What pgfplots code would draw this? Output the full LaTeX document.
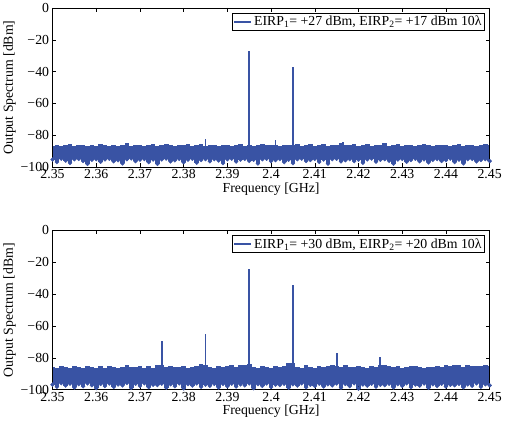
\documentclass[border=0pt]{standalone}
\usepackage{fontspec}
\setmainfont{Liberation Serif}
\usepackage{pgfplots}
\pgfplotsset{compat=1.18}
\usepackage{pgfplotstable}
\definecolor{specblue}{RGB}{57,83,164}

% noise floor envelopes: x, upper/lower (top panel), upper/lower (bottom panel)
\pgfplotstableread{
x u1 l1 u2 l2
2.350 -86.4 -95.2 -85.6 -96.8
2.351 -85.9 -96.8 -86.2 -98.1
2.352 -86.7 -94.6 -85.1 -95.9
2.353 -86.1 -95.9 -85.8 -97.4
2.354 -85.6 -97.3 -86.4 -96.2
2.355 -86.8 -95.0 -85.3 -98.6
2.356 -86.2 -94.8 -85.9 -96.5
2.357 -85.8 -96.1 -86.6 -97.9
2.358 -86.5 -98.0 -85.2 -96.0
2.359 -86.0 -95.4 -85.7 -97.2
2.360 -86.6 -94.9 -86.1 -99.0
2.361 -85.7 -96.6 -85.4 -96.4
2.362 -86.3 -95.1 -86.3 -97.7
2.363 -86.9 -94.7 -85.0 -96.1
2.364 -85.9 -96.3 -85.8 -98.3
2.365 -86.4 -95.6 -86.5 -96.7
2.366 -86.1 -97.6 -85.5 -97.3
2.367 -84.8 -95.0 -84.6 -95.8
2.368 -86.5 -94.5 -86.0 -98.9
2.369 -86.0 -96.2 -85.6 -96.3
2.370 -85.8 -95.3 -84.9 -97.6
2.371 -86.6 -94.9 -86.2 -96.0
2.372 -86.2 -96.8 -85.3 -98.4
2.373 -85.7 -95.2 -86.1 -96.9
2.374 -86.7 -97.9 -84.3 -97.1
2.375 -86.0 -95.1 -84.8 -96.2
2.376 -85.5 -94.6 -85.9 -98.7
2.377 -86.3 -96.4 -85.4 -96.6
2.378 -86.9 -95.7 -86.0 -97.8
2.379 -85.9 -94.8 -85.7 -96.0
2.380 -86.2 -96.9 -85.1 -99.2
2.381 -85.6 -95.3 -86.3 -96.5
2.382 -86.8 -94.7 -85.5 -97.4
2.383 -86.0 -97.2 -84.9 -96.1
2.384 -85.7 -95.5 -83.6 -98.2
2.385 -86.4 -95.0 -84.5 -96.8
2.386 -86.1 -96.3 -85.8 -97.5
2.387 -85.8 -94.9 -86.2 -96.3
2.388 -86.5 -95.8 -85.2 -98.6
2.389 -86.0 -97.4 -85.9 -96.4
2.390 -85.9 -95.1 -85.0 -97.9
2.391 -86.6 -94.6 -84.2 -96.2
2.392 -86.2 -96.5 -85.6 -98.0
2.393 -85.6 -95.2 -84.7 -96.7
2.394 -86.4 -94.8 -84.4 -97.3
2.395 -85.9 -96.0 -84.1 -96.0
2.396 -86.7 -95.4 -85.7 -99.1
2.397 -86.0 -97.7 -86.1 -96.5
2.398 -85.7 -95.0 -85.3 -97.6
2.399 -86.3 -94.7 -85.9 -96.1
2.400 -86.1 -96.2 -86.4 -98.3
2.401 -85.8 -95.6 -85.2 -96.8
2.402 -86.5 -94.9 -85.8 -97.1
2.403 -86.0 -96.8 -85.0 -96.3
2.404 -86.3 -95.3 -83.5 -98.8
2.405 -85.9 -97.5 -83.3 -96.6
2.406 -85.2 -95.0 -85.7 -97.4
2.407 -86.6 -94.6 -86.1 -96.0
2.408 -86.1 -96.1 -84.8 -98.5
2.409 -85.7 -95.5 -85.6 -96.9
2.410 -86.4 -94.8 -86.2 -97.7
2.411 -86.0 -96.7 -85.4 -96.2
2.412 -85.6 -95.2 -85.9 -98.0
2.413 -86.8 -97.8 -85.1 -96.6
2.414 -86.2 -95.0 -84.6 -97.3
2.415 -85.9 -94.7 -84.9 -96.1
2.416 -84.6 -96.4 -85.7 -98.7
2.417 -86.3 -95.6 -84.2 -96.4
2.418 -86.0 -94.9 -85.5 -97.8
2.419 -85.7 -96.2 -86.0 -96.0
2.420 -86.5 -95.3 -85.3 -99.3
2.421 -86.1 -97.3 -85.8 -96.7
2.422 -85.6 -95.1 -86.3 -97.5
2.423 -86.7 -94.6 -85.0 -96.2
2.424 -86.0 -96.5 -85.6 -98.1
2.425 -85.8 -95.4 -84.7 -96.9
2.426 -85.1 -94.9 -84.4 -97.2
2.427 -86.4 -96.0 -85.2 -96.3
2.428 -86.1 -97.8 -85.9 -98.6
2.429 -85.7 -95.2 -85.4 -96.5
2.430 -86.6 -94.8 -86.1 -97.6
2.431 -86.2 -96.6 -85.7 -96.0
2.432 -85.9 -95.5 -85.1 -98.4
2.433 -86.5 -94.7 -84.9 -96.8
2.434 -86.0 -96.3 -85.8 -97.4
2.435 -85.4 -95.1 -86.2 -96.1
2.436 -86.3 -97.0 -85.5 -98.9
2.437 -86.8 -95.4 -85.9 -96.6
2.438 -85.8 -94.9 -85.2 -97.7
2.439 -86.2 -96.1 -85.7 -96.3
2.440 -85.9 -95.6 -84.6 -98.0
2.441 -86.5 -94.6 -85.0 -96.9
2.442 -86.0 -96.8 -84.5 -97.2
2.443 -85.7 -95.3 -84.8 -96.4
2.444 -86.4 -97.6 -85.6 -98.5
2.445 -86.1 -95.0 -84.7 -96.7
2.446 -85.8 -94.8 -85.3 -97.5
2.447 -86.6 -96.4 -84.9 -96.0
2.448 -86.0 -95.5 -85.4 -98.2
2.449 -85.6 -94.9 -84.8 -96.6
2.450 -86.3 -96.2 -85.2 -97.3
}\noise

\pgfplotsset{spec/.style={
  scale only axis,width=442bp,height=161bp,
  xmin=2.35,xmax=2.45,ymin=-100,ymax=0,
  xtick={2.35,2.36,...,2.451},
  xticklabels={2.35,2.36,2.37,2.38,2.39,2.4,2.41,2.42,2.43,2.44,2.45},
  ytick={-100,-80,-60,-40,-20,0},
  yticklabels={−100,−80,−60,−40,−20,0},
  tick align=inside,major tick length=4bp,
  axis line style={line width=0.6pt},every tick/.style={black,line width=0.5pt},
  xlabel={Frequency [GHz]},ylabel={Output Spectrum [dBm]},
  xlabel style={yshift=3bp},ylabel style={yshift=-2bp},
  xticklabel style={yshift=1bp},
  tick label style={font=\fontsize{14}{15}\selectfont},
  label style={font=\fontsize{14}{15}\selectfont},
  legend style={font=\fontsize{14}{15}\selectfont,at={(rel axis cs:0.989,0.969)},anchor=north east,
    draw=black,line width=0.6pt,inner sep=1pt},
  legend image post style={line width=2pt},
  legend cell align=left,axis on top=true},
  band/.style={specblue,only marks,mark=none,forget plot,
    error bars/.cd,y dir=plus,y explicit,error mark=none,
    error bar style={line width=4.7bp,specblue}}}

\begin{document}
\begin{tikzpicture}
\begin{axis}[spec,name=top]
\addplot[band] table[x=x,y=l1,y error expr=\thisrow{u1}-\thisrow{l1}]{\noise};
\addplot[specblue,line width=1.8pt,unbounded coords=jump,forget plot] coordinates {
  (2.385,-90)(2.385,-82) (2.385,nan)
  (2.395,-90)(2.395,-27) (2.395,nan)
  (2.401,-90)(2.401,-83) (2.401,nan)
  (2.405,-90)(2.405,-37) (2.405,nan)
  (2.4165,-90)(2.4165,-84)};
\addlegendimage{specblue}
\addlegendentry{EIRP\textsubscript{1}= +27 dBm, EIRP\textsubscript{2}= +17 dBm 10λ}
\end{axis}
\begin{axis}[spec,at={(top.south west)},anchor=south west,yshift=-225bp]
\addplot[band] table[x=x,y=l2,y error expr=\thisrow{u2}-\thisrow{l2}]{\noise};
\addplot[specblue,line width=1.8pt,unbounded coords=jump,forget plot] coordinates {
  (2.375,-90)(2.375,-69.5) (2.375,nan)
  (2.385,-90)(2.385,-65) (2.385,nan)
  (2.395,-90)(2.395,-24) (2.395,nan)
  (2.405,-90)(2.405,-34) (2.405,nan)
  (2.415,-90)(2.415,-77) (2.415,nan)
  (2.425,-90)(2.425,-79.5)};
\addlegendimage{specblue}
\addlegendentry{EIRP\textsubscript{1}= +30 dBm, EIRP\textsubscript{2}= +20 dBm 10λ}
\end{axis}
\end{tikzpicture}
\end{document}
